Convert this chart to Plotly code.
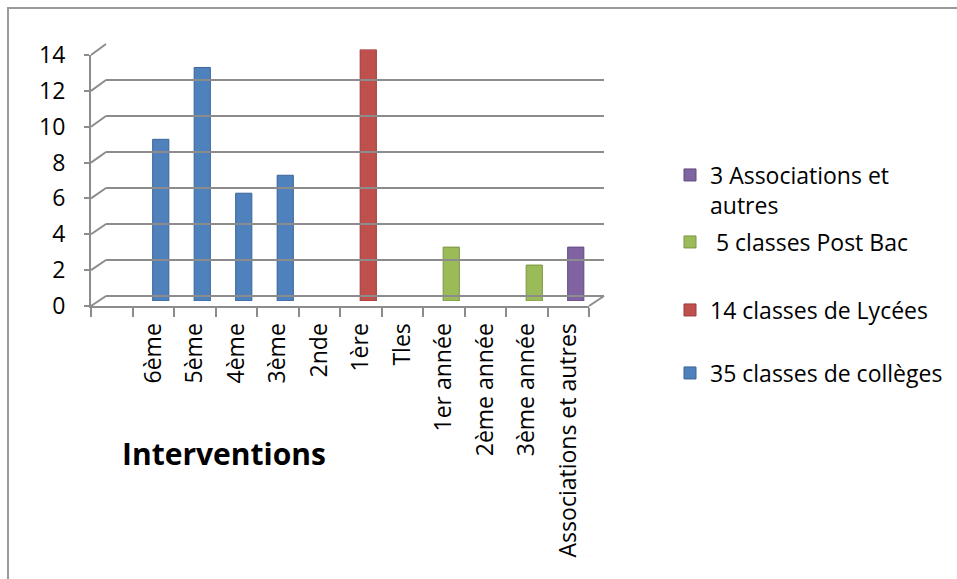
import plotly.graph_objects as go

# ---------------- data ----------------
categories = ["6ème", "5ème", "4ème", "3ème", "2nde", "1ère", "Tles",
              "1er année", "2ème année", "3ème année", "Associations et autres"]
colleges = [9, 13, 6, 7, None, None, None, None, None, None, None]
lycees = [None, None, None, None, None, 14, None, None, None, None, None]
postbac = [None, None, None, None, None, None, None, 3, None, 2, None]
assoc = [None, None, None, None, None, None, None, None, None, None, 3]
series_names = ["35 classes de collèges", "14 classes de Lycées",
                " 5 classes Post Bac", "3 Associations et<br>autres"]
series_values = [colleges, lycees, postbac, assoc]
colors = ["#4F81BD", "#C0504D", "#9BBB59", "#8064A2"]
edge_colors = ["#3A6597", "#9B3B38", "#7A9544", "#5F4A7E"]
y_ticks = [0, 2, 4, 6, 8, 10, 12, 14]
chart_title = "Interventions"

# ---------------- layout helpers (pixels -> paper) ----------------
W, H = 957, 579
FONT = "Open Sans"
GRID = "#8C8C8C"


def fx(px):
    return px / W


def fy(py):
    return 1 - py / H


YMAX = 14
# back wall, front axes, and mid-depth (bars)
BX0, BX1, BY0, BY1 = 106, 604, 296, 44
FX0, FX1, FY0, FY1 = 91, 589, 306, 55
MX0, MX1, MY0, MY1 = 98.5, 596.5, 301, 49.5
XR = [-1.5, len(categories) - 0.5]

fig = go.Figure()

legends = ["legend", "legend2", "legend3", "legend4"]
legend_centers = [373, 310, 242, 190]
for name, vals, col, ec, lg in zip(series_names, series_values, colors, edge_colors, legends):
    fig.add_trace(go.Bar(
        x=categories, y=vals, name=name, marker_color=col,
        marker_line=dict(color=ec, width=1), width=0.39,
        xaxis="x", yaxis="y", legend=lg,
    ))

# helper traces so the wall / front axes are created
fig.add_trace(go.Scatter(x=[None], y=[None], xaxis="x2", yaxis="y2",
                         showlegend=False, hoverinfo="skip"))
fig.add_trace(go.Scatter(x=[None], y=[None], xaxis="x3", yaxis="y3",
                         showlegend=False, hoverinfo="skip"))

# diagonal "side wall" lines joining front axis to back wall
shapes = []
for v in y_ticks:
    yf = FY0 + (FY1 - FY0) * v / YMAX
    yb = BY0 + (BY1 - BY0) * v / YMAX
    shapes.append(dict(type="line", xref="paper", yref="paper",
                       x0=fx(FX0), y0=fy(yf), x1=fx(BX0), y1=fy(yb),
                       line=dict(color=GRID, width=2)))
# right floor edge
shapes.append(dict(type="line", xref="paper", yref="paper",
                   x0=fx(FX1), y0=fy(FY0), x1=fx(BX1), y1=fy(BY0),
                   line=dict(color=GRID, width=2)))
# chart border
shapes.append(dict(type="rect", xref="paper", yref="paper",
                   x0=fx(8), y0=fy(8), x1=fx(W + 20), y1=fy(H + 20),
                   line=dict(color="#9A9A9A", width=2), fillcolor="rgba(0,0,0,0)"))

legend_style = dict(bgcolor="rgba(0,0,0,0)", font=dict(family=FONT, size=23, color="#000"),
                    xanchor="left", yanchor="middle", x=fx(670), valign="top",
                    itemclick=False, itemdoubleclick=False)

fig.update_layout(
    width=W, height=H,
    margin=dict(l=0, r=0, t=0, b=0, autoexpand=False),
    paper_bgcolor="white", plot_bgcolor="rgba(0,0,0,0)",
    barmode="overlay",
    font=dict(family=FONT, size=23, color="#000"),
    xaxis=dict(domain=[fx(MX0), fx(MX1)], type="category", categoryarray=categories,
               range=XR, visible=False, fixedrange=True, automargin=False),
    yaxis=dict(domain=[fy(MY0), fy(MY1)], range=[0, YMAX], visible=False,
               fixedrange=True, automargin=False),
    xaxis2=dict(domain=[fx(BX0), fx(BX1)], range=[0, 1], visible=False, anchor="y2",
                automargin=False),
    yaxis2=dict(domain=[fy(BY0), fy(BY1)], range=[0, YMAX], anchor="x2",
                tickvals=y_ticks, showticklabels=False, ticks="", automargin=False,
                showgrid=True, gridcolor=GRID, gridwidth=2,
                zeroline=True, zerolinecolor=GRID, zerolinewidth=2, showline=False),
    xaxis3=dict(domain=[fx(FX0), fx(FX1)], range=XR, anchor="y3", automargin=False,
                tickvals=list(range(len(categories))), ticktext=categories,
                tickangle=-90, ticks="", showgrid=False, zeroline=False,
                showline=True, linecolor=GRID, linewidth=2,
                ticklabelstandoff=6,
                tickfont=dict(family=FONT, size=23, color="#000"),
                minor=dict(tickmode="array",
                           tickvals=[XR[0] + i for i in range(len(categories) + 2)],
                           ticks="outside", ticklen=9, tickcolor=GRID, tickwidth=2,
                           showgrid=False)),
    yaxis3=dict(domain=[fy(FY0), fy(FY1)], range=[0, YMAX], anchor="x3", automargin=False,
                tickvals=y_ticks, ticks="outside", ticklen=5, tickcolor=GRID, tickwidth=2,
                showline=True, linecolor=GRID, linewidth=2, showgrid=False, zeroline=False,
                ticklabelstandoff=14,
                tickfont=dict(family=FONT, size=23, color="#000")),
    shapes=shapes,
    annotations=[dict(text="<b>" + chart_title + "</b>", xref="paper", yref="paper",
                      x=fx(120), y=fy(453), xanchor="left", yanchor="middle",
                      showarrow=False, font=dict(family=FONT, size=30, color="#000"))],
)
for lg, yc in zip(legends, legend_centers):
    fig.update_layout({lg: dict(legend_style, y=fy(yc))})

fig.write_html("out.html")
